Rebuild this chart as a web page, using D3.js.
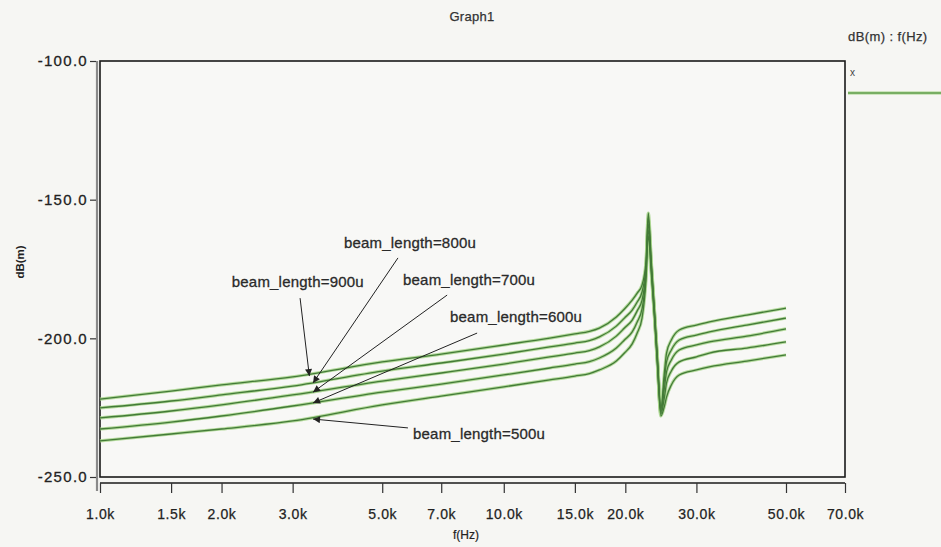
<!DOCTYPE html>
<html><head><meta charset="utf-8">
<script src="https://cdn.jsdelivr.net/npm/d3@7"></script>
<style>
html,body{margin:0;padding:0;background:#f6f6f3;}
svg{display:block;}
text{font-family:"Liberation Sans",Arial,sans-serif;fill:#222;}
</style></head>
<body>
<svg id="chart" width="941" height="547"></svg>
<script>
// ---- data ----
const freqs = [1000,1500,2000,3000,5000,7000,10000,13000,15000,16300,17250,19000,19900,20800,21400,22000,22500,22800,23200,23600,24000,24500,25000,25300,26000,27200,30000,32300,40000,50000];
const db900 = [-221.9,-219.0,-216.8,-213.9,-208.5,-205.7,-202.4,-199.9,-198.4,-197.5,-196.3,-192.3,-189.4,-186.2,-183.7,-180.8,-172.5,-154.8,-172.5,-189.1,-206.0,-225.1,-212.1,-205.3,-200.6,-197.0,-195.2,-194.1,-191.6,-189.1];
const db800 = [-225.1,-222.6,-220.4,-217.2,-211.8,-208.9,-205.7,-203.1,-201.7,-200.8,-199.5,-195.6,-192.7,-189.8,-186.9,-183.3,-173.9,-156.6,-173.6,-189.8,-206.7,-225.8,-214.7,-208.5,-204.2,-200.6,-198.8,-197.7,-195.2,-192.7];
const db700 = [-228.7,-226.2,-224.0,-220.4,-215.4,-212.5,-209.3,-206.7,-205.3,-204.4,-203.1,-199.2,-196.3,-193.4,-190.1,-186.2,-175.4,-158.8,-174.6,-190.5,-207.5,-226.6,-217.9,-212.1,-207.8,-204.2,-202.4,-201.3,-199.2,-196.6];
const db600 = [-232.7,-230.2,-228.0,-224.4,-219.4,-216.5,-213.2,-210.7,-209.3,-208.4,-207.1,-203.5,-200.6,-197.7,-194.1,-189.4,-177.2,-160.9,-175.7,-191.2,-208.2,-227.3,-221.2,-216.1,-211.8,-208.5,-206.7,-205.3,-203.5,-201.3];
const db500 = [-237.0,-234.5,-232.7,-229.8,-224.0,-220.8,-217.5,-215.0,-213.6,-212.7,-211.4,-208.2,-205.3,-202.0,-198.1,-192.7,-179.0,-163.1,-176.8,-191.9,-208.9,-228.0,-224.4,-221.2,-216.8,-213.2,-211.4,-210.3,-208.2,-206.0];
const seriesNames = ["beam_length=900u","beam_length=800u","beam_length=700u","beam_length=600u","beam_length=500u"];
const seriesValues = [db900, db800, db700, db600, db500];

const xTicks = [1000,1500,2000,3000,5000,7000,10000,15000,20000,30000,50000,70000];
const xTickLabels = ["1.0k","1.5k","2.0k","3.0k","5.0k","7.0k","10.0k","15.0k","20.0k","30.0k","50.0k","70.0k"];
const yTicks = [-100,-150,-200,-250];
const yTickLabels = ["-100.0","-150.0","-200.0","-250.0"];

// annotation anchors in data units
const annoText = ["beam_length=900u","beam_length=800u","beam_length=700u","beam_length=600u","beam_length=500u"];
const annoTextF = [2120, 4020, 5630, 7360, 5960];
const annoTextDb = [-181.5, -167.4, -180.8, -194.1, -236.3];
const annoTailF = [3130, 5470, 7240, 8590, 5790];
const annoTailDb = [-185.5, -171.0, -184.4, -198.1, -232.3];
const annoTipF = [3300, 3370, 3370, 3370, 3370];
const annoTipDb = [-213.6, -216.1, -219.4, -223.3, -229.1];

// ---- layout ----
const L = 100, R = 845, T = 61, B = 477;
const svg = d3.select("#chart");
const x = d3.scaleLog().domain([1000, 70000]).range([L, R]);
const y = d3.scaleLinear().domain([-250, -100]).range([B, T]);

// title
svg.append("text").attr("x", 472).attr("y", 21).attr("text-anchor","middle")
  .style("font-size","13px").style("letter-spacing","0.3px").style("fill","#333")
  .style("stroke","#333").style("stroke-width","0.25px").text("Graph1");

// frame
svg.append("rect").attr("x", L).attr("y", T).attr("width", R-L).attr("height", B-T)
  .attr("fill","#f8f8f6").attr("stroke","#1a1a1a").attr("stroke-width",1.6);

// left axis
svg.append("line").attr("x1", L-3).attr("x2", L-3).attr("y1", T).attr("y2", B+14)
  .attr("stroke","#8a8a8a").attr("stroke-width",2.2);
const yAxis = d3.axisLeft(y).tickValues(yTicks).tickFormat((d,i)=>yTickLabels[i]).tickSize(6).tickPadding(2);
const gy = svg.append("g").attr("transform",`translate(${L-4},0)`).call(yAxis);
gy.select(".domain").remove();
gy.selectAll(".tick line").attr("stroke","#333").attr("stroke-width",1.2);
gy.selectAll(".tick text").style("font-size","15px").style("letter-spacing","1.3px")
  .style("font-family",'"Liberation Sans",Arial,sans-serif').attr("fill","#222")
  .style("stroke","#222").style("stroke-width","0.3px");

// bottom axis
const xAxis = d3.axisBottom(x).tickValues(xTicks).tickFormat((d,i)=>xTickLabels[i]).tickSize(10).tickPadding(16);
const gx = svg.append("g").attr("transform",`translate(0,${B+6})`).call(xAxis);
gx.select(".domain").attr("stroke","#1a1a1a").attr("stroke-width",1.6).attr("d",`M${L},0H${R}`);
gx.selectAll(".tick line").attr("stroke","#333").attr("stroke-width",1.2);
gx.selectAll(".tick text").style("font-size","14px").style("letter-spacing","0.6px")
  .style("font-family",'"Liberation Sans",Arial,sans-serif').attr("fill","#222")
  .style("stroke","#222").style("stroke-width","0.25px");

// axis titles
svg.append("text").attr("x", 466).attr("y", 539).attr("text-anchor","middle")
  .style("font-size","12px").style("stroke","#222").style("stroke-width","0.2px").text("f(Hz)");
svg.append("text").attr("transform","translate(24,262) rotate(-90)").attr("text-anchor","middle")
  .style("font-size","11.5px").style("font-weight","bold").text("dB(m)");

// legend
svg.append("text").attr("x", 848).attr("y", 41).style("font-size","13px").style("letter-spacing","0.4px")
  .style("fill","#333").style("stroke","#333").style("stroke-width","0.25px").text("dB(m) : f(Hz)");
svg.append("text").attr("x", 850).attr("y", 76).style("font-size","10px").style("fill","#444").text("x");
svg.append("line").attr("x1",848).attr("x2",941).attr("y1",93).attr("y2",93).attr("stroke","#a6d38a").attr("stroke-width",3);
svg.append("line").attr("x1",848).attr("x2",941).attr("y1",93).attr("y2",93).attr("stroke","#4a8a3c").attr("stroke-width",1.2);

// curves
const line = d3.line().x((d,i)=>x(freqs[i])).y(d=>y(d)).curve(d3.curveMonotoneX);
const gc = svg.append("g");
seriesValues.forEach(vals=>{
  gc.append("path").attr("d", line(vals)).attr("fill","none")
    .attr("stroke","#a8d58c").attr("stroke-width",3.2).attr("stroke-linejoin","round").attr("opacity",0.85);
});
seriesValues.forEach(vals=>{
  gc.append("path").attr("d", line(vals)).attr("fill","none")
    .attr("stroke","#437b37").attr("stroke-width",1.3).attr("stroke-linejoin","round");
});

// annotations
svg.append("defs").append("marker").attr("id","arr").attr("viewBox","0 0 10 10")
  .attr("refX",10).attr("refY",5).attr("markerWidth",9).attr("markerHeight",7)
  .attr("markerUnits","userSpaceOnUse").attr("orient","auto")
  .append("path").attr("d","M0,0L10,5L0,10z").attr("fill","#222");
annoText.forEach((t,i)=>{
  svg.append("line").attr("x1", x(annoTailF[i])).attr("y1", y(annoTailDb[i]))
    .attr("x2", x(annoTipF[i])).attr("y2", y(annoTipDb[i]))
    .attr("stroke","#222").attr("stroke-width",1).attr("marker-end","url(#arr)");
  svg.append("text").attr("x", x(annoTextF[i])).attr("y", y(annoTextDb[i]))
    .style("font-size","15px").style("letter-spacing","0.2px").style("fill","#2a2a2a")
    .style("stroke","#2a2a2a").style("stroke-width","0.3px").text(t);
});
</script>
</body></html>
